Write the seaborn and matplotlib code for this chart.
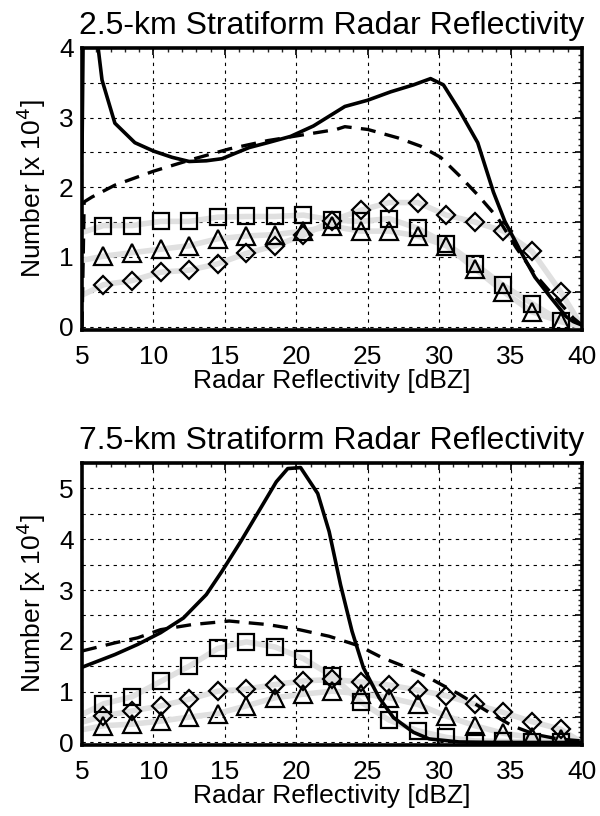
import numpy as np
import pandas as pd
import matplotlib
matplotlib.use("Agg")
import matplotlib.pyplot as plt
import seaborn as sns
from matplotlib.ticker import MultipleLocator, FuncFormatter

sns.set_theme(style="white")
plt.rcParams['font.family'] = ['Liberation Sans', 'DejaVu Sans']

# marker bin centres (dBZ)
bins = [6.5, 8.5, 10.5, 12.5, 14.5, 16.5, 18.5, 20.5, 22.5, 24.5, 26.5, 28.5, 30.5, 32.5, 34.5, 36.5, 38.5]

# ---- 2.5 km panel ----
top_sq = [1.45, 1.45, 1.51, 1.51, 1.57, 1.58, 1.58, 1.60, 1.53, 1.51, 1.55, 1.41, 1.19, 0.90, 0.59, 0.33, 0.08]
top_tri = [1.01, 1.06, 1.11, 1.16, 1.26, 1.30, 1.32, 1.37, 1.44, 1.37, 1.37, 1.30, 1.16, 0.83, 0.50, 0.21, 0.07]
top_dia = [0.60, 0.66, 0.78, 0.81, 0.90, 1.05, 1.16, 1.31, 1.52, 1.67, 1.78, 1.78, 1.60, 1.50, 1.37, 1.08, 0.50]
top_solid_x = [5.0, 5.1, 6.1, 6.4, 7.3, 8.7, 10.0, 11.3, 12.5, 13.7, 14.8, 16.7, 18.0, 19.6, 21.2, 23.4, 25.0,
               26.6, 28.2, 29.4, 30.3, 31.4, 32.7, 33.8, 34.6, 35.7, 36.7, 37.8, 38.9, 39.4, 40.0]
top_solid_y = [2.5, 4.6, 4.05, 3.54, 2.92, 2.64, 2.52, 2.43, 2.37, 2.38, 2.41, 2.57, 2.64, 2.73, 2.88, 3.16, 3.25,
               3.37, 3.47, 3.56, 3.47, 3.11, 2.64, 1.93, 1.51, 1.08, 0.71, 0.42, 0.14, 0.07, 0.02]
top_dash_x = [5.0, 5.15, 5.7, 7.3, 10.0, 12.7, 15.3, 18.0, 20.7, 22.8, 23.4, 25.0, 27.1, 28.7, 30.1, 31.4, 32.7,
              34.1, 35.4, 36.7, 38.1, 39.4, 40.0]
top_dash_y = [0.0, 1.79, 1.86, 2.03, 2.23, 2.40, 2.55, 2.67, 2.76, 2.83, 2.87, 2.83, 2.71, 2.59, 2.43, 2.17, 1.89,
              1.56, 1.13, 0.75, 0.42, 0.12, 0.02]
top_gray_start = [1.35, 0.95, 0.45]

# ---- 7.5 km panel ----
bot_sq = [0.76, 0.90, 1.20, 1.50, 1.85, 1.98, 1.88, 1.65, 1.31, 0.80, 0.44, 0.23, 0.10, 0.03, 0.02, 0.01, 0.01]
bot_tri = [0.33, 0.36, 0.42, 0.50, 0.57, 0.72, 0.88, 0.95, 1.01, 0.96, 0.88, 0.75, 0.52, 0.33, 0.18, 0.10, 0.07]
bot_dia = [0.52, 0.62, 0.72, 0.85, 1.01, 1.05, 1.14, 1.21, 1.24, 1.19, 1.13, 1.03, 0.92, 0.75, 0.59, 0.41, 0.26]
bot_solid_x = [5.0, 7.3, 8.9, 10.5, 12.1, 13.7, 14.8, 16.1, 17.5, 18.6, 19.4, 20.3, 21.5, 22.3, 23.1, 23.9, 24.7,
               25.8, 26.8, 28.2, 29.3, 31.4, 34.1, 40.0]
bot_solid_y = [1.48, 1.73, 1.93, 2.16, 2.45, 2.91, 3.37, 3.95, 4.61, 5.13, 5.39, 5.41, 4.90, 4.15, 3.10, 2.19, 1.47,
               0.88, 0.49, 0.20, 0.07, 0.01, 0.0, 0.0]
bot_dash_x = [5.0, 7.3, 8.9, 10.5, 12.7, 15.3, 18.0, 20.2, 22.3, 24.4, 26.0, 27.7, 29.3, 31.4, 33.5, 35.1, 36.7,
              38.3, 40.0]
bot_dash_y = [1.80, 1.96, 2.06, 2.22, 2.32, 2.39, 2.32, 2.22, 2.09, 1.90, 1.67, 1.48, 1.27, 0.95, 0.59, 0.33, 0.16,
              0.07, 0.03]
bot_gray_start = [0.55, 0.25, 0.40]

titles = ["2.5-km Stratiform Radar Reflectivity", "7.5-km Stratiform Radar Reflectivity"]
xlabel = "Radar Reflectivity [dBZ]"
ylabel = "Number [x 10$^4$]"

fig = plt.figure(figsize=(6.0, 8.16), dpi=100)
ax1 = fig.add_axes([0.1367, 0.5956, 0.8333, 0.3456])
ax2 = fig.add_axes([0.1367, 0.0870, 0.8333, 0.3456])

panels = [
    (ax1, top_sq, top_tri, top_dia, top_solid_x, top_solid_y, top_dash_x, top_dash_y, top_gray_start, 4.0),
    (ax2, bot_sq, bot_tri, bot_dia, bot_solid_x, bot_solid_y, bot_dash_x, bot_dash_y, bot_gray_start, 5.5),
]

for i, (ax, sq, tri, dia, sx, sy, dx, dy, gstart, ytop) in enumerate(panels):
    # gray smoothed background curves
    for start, vals in zip(gstart, [sq, tri, dia]):
        gx = [5.0] + bins + [40.0]
        gy = [start] + vals + [0.0]
        sns.lineplot(x=gx, y=gy, ax=ax, color="#e0e0e0", linewidth=4.0, sort=False,
                     estimator=None, zorder=1)
    # black curves
    sns.lineplot(x=sx, y=sy, ax=ax, color="black", linewidth=2.6, sort=False, estimator=None, zorder=3)
    sns.lineplot(x=dx, y=dy, ax=ax, color="black", linewidth=2.4, sort=False, estimator=None, zorder=3,
                 dashes=False, linestyle=(0, (4.5, 2.8)))
    # markers
    for vals, mk, ms in [(sq, "s", 11.5), (tri, "^", 12.5), (dia, "D", 9.5)]:
        sns.lineplot(x=bins, y=vals, ax=ax, linestyle="", marker=mk, markersize=ms,
                     markerfacecolor="none", markeredgecolor="black", markeredgewidth=1.6,
                     color="black", zorder=4, estimator=None)

    ax.set_xlim(5, 40)
    ax.set_ylim(-0.05, ytop)
    ax.xaxis.set_major_locator(MultipleLocator(5))
    ax.xaxis.set_minor_locator(MultipleLocator(1))
    ax.yaxis.set_major_locator(MultipleLocator(0.5))
    ax.yaxis.set_minor_locator(MultipleLocator(0.1))
    ax.yaxis.set_major_formatter(FuncFormatter(lambda v, p: f"{int(round(v))}" if abs(v - round(v)) < 1e-6 else ""))
    ax.grid(True, which="major", color="black", linestyle=(0, (3, 4)), linewidth=0.8)
    ax.tick_params(axis="both", which="major", direction="in", length=5, width=1.2, labelsize=19,
                   top=True, right=True, colors="black")
    ax.tick_params(axis="x", which="major", pad=11)
    ax.tick_params(axis="y", which="major", pad=6)
    ax.tick_params(axis="both", which="minor", direction="in", length=3, width=1.0, top=True, right=True)
    for sp in ax.spines.values():
        sp.set_visible(True)
        sp.set_color("black")
        sp.set_linewidth(2.6)
        sp.set_zorder(5)
    ax.set_title(titles[i], fontsize=23, pad=10, color="black")
    ax.set_xlabel(xlabel, fontsize=19, labelpad=0, color="black")
    ax.set_ylabel(ylabel, fontsize=19, labelpad=8, color="black")
    ax.set_facecolor("white")

fig.savefig("out.png", dpi=100, facecolor="white")
